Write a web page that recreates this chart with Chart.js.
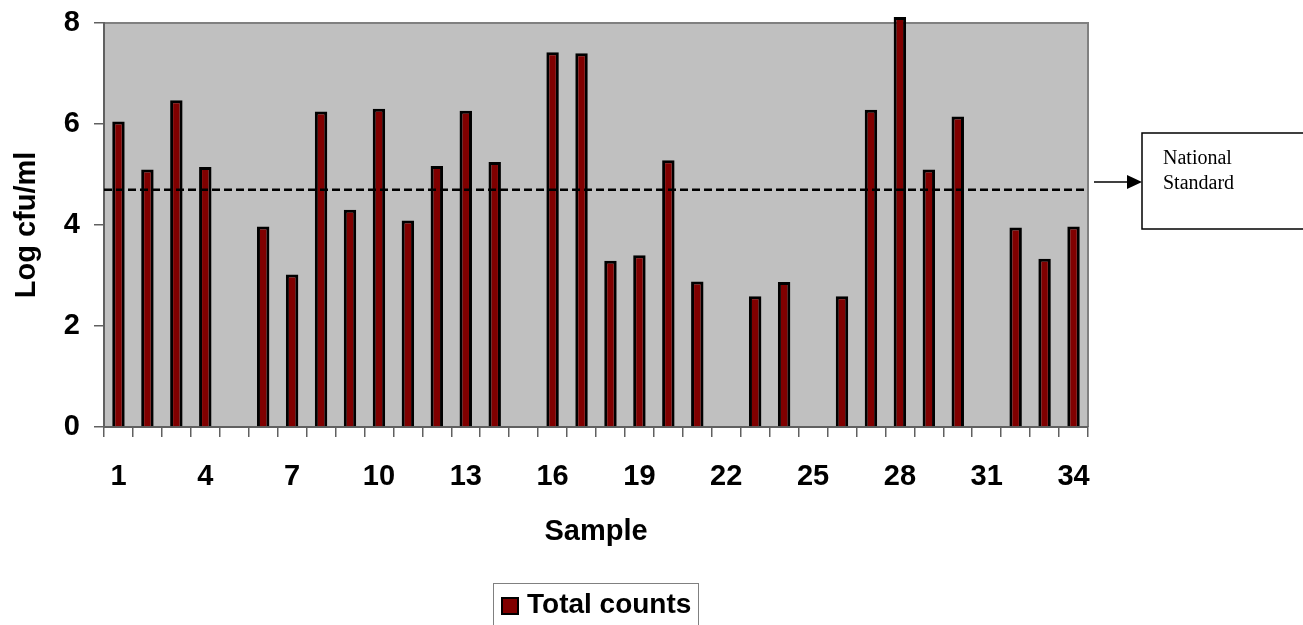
<!DOCTYPE html>
<html>
<head>
<meta charset="utf-8">
<script src="https://cdn.jsdelivr.net/npm/chart.js@4"></script>
<style>
  html, body { margin: 0; padding: 0; background: #fff; }
  #wrap { width: 1303px; height: 625px; position: relative; }
</style>
</head>
<body>
<div id="wrap"><canvas id="chart" width="1303" height="625"></canvas></div>
<script>
// Sample numbers along the x axis
const SAMPLES = ['1', '2', '3', '4', '5', '6', '7', '8', '9', '10', '11', '12',
  '13', '14', '15', '16', '17', '18', '19', '20', '21', '22', '23', '24',
  '25', '26', '27', '28', '29', '30', '31', '32', '33', '34'];

// Total counts, log cfu/ml (null = no bar)
const TOTAL_COUNTS = [6.05, 5.10, 6.47, 5.15, null, 3.97, 3.02, 6.25, 4.30, 6.30,
  4.09, 5.17, 6.26, 5.25, null, 7.42, 7.40, 3.29, 3.40, 5.28, 2.88, null, 2.59,
  2.87, null, 2.59, 6.28, 8.12, 5.10, 6.15, null, 3.95, 3.33, 3.97];

const Y_TICKS = [0, 2, 4, 6, 8];
const NATIONAL_STANDARD = 4.7;
const STANDARD_TEXT = ['National', 'Standard'];

const SANS = "'Liberation Sans', Arial, sans-serif";
const SERIF = "'Liberation Serif', 'Times New Roman', serif";
const AXIS_GREY = '#606060';

// grey plot area with a frame on top and right
const plotBackground = {
  id: 'plotBackground',
  beforeDraw(chart) {
    const { ctx, chartArea: a } = chart;
    ctx.save();
    ctx.fillStyle = '#c0c0c0';
    ctx.fillRect(a.left, a.top, a.right - a.left, a.bottom - a.top);
    ctx.strokeStyle = '#808080';
    ctx.lineWidth = 2;
    ctx.beginPath();
    ctx.moveTo(a.left, a.top);
    ctx.lineTo(a.right, a.top);
    ctx.lineTo(a.right, a.bottom);
    ctx.stroke();
    ctx.restore();
  },
};

// dashed national standard line
const standardLine = {
  id: 'standardLine',
  afterDatasetsDraw(chart) {
    const { ctx, chartArea: a, scales } = chart;
    const y = scales.y.getPixelForValue(NATIONAL_STANDARD);
    ctx.save();
    ctx.strokeStyle = '#000';
    ctx.lineWidth = 2.5;
    ctx.setLineDash([8, 4]);
    ctx.beginPath();
    ctx.moveTo(a.left, y);
    ctx.lineTo(a.right, y);
    ctx.stroke();
    ctx.restore();
  },
};

// arrow + text box on the right
const standardNote = {
  id: 'standardNote',
  afterDraw(chart) {
    const { ctx } = chart;
    const y = 182;
    ctx.save();
    ctx.strokeStyle = '#000';
    ctx.fillStyle = '#000';
    ctx.lineWidth = 1.5;
    ctx.beginPath();
    ctx.moveTo(1094, y);
    ctx.lineTo(1128, y);
    ctx.stroke();
    ctx.beginPath();
    ctx.moveTo(1142, y);
    ctx.lineTo(1127, y - 7);
    ctx.lineTo(1127, y + 7);
    ctx.closePath();
    ctx.fill();

    ctx.fillStyle = '#fff';
    ctx.fillRect(1142, 133, 170, 96);
    ctx.strokeRect(1142, 133, 170, 96);

    ctx.fillStyle = '#000';
    ctx.font = '20px ' + SERIF;
    ctx.textBaseline = 'alphabetic';
    ctx.textAlign = 'left';
    STANDARD_TEXT.forEach((t, i) => ctx.fillText(t, 1163, 164 + i * 25));
    ctx.restore();
  },
};

// framed legend under the x title
const boxLegend = {
  id: 'boxLegend',
  afterDraw(chart) {
    const { ctx, chartArea: a } = chart;
    const ds = chart.data.datasets[0];
    const cx = (a.left + a.right) / 2;
    const left = cx - 103, top = 583;
    ctx.save();
    ctx.strokeStyle = '#808080';
    ctx.lineWidth = 1;
    ctx.strokeRect(left + 0.5, top + 0.5, 205, 60);
    ctx.fillStyle = ds.backgroundColor;
    ctx.fillRect(left + 9, top + 15, 16, 16);
    ctx.strokeStyle = '#000';
    ctx.lineWidth = 2;
    ctx.strokeRect(left + 9, top + 15, 16, 16);
    ctx.fillStyle = '#000';
    ctx.font = 'bold 28px ' + SANS;
    ctx.textBaseline = 'middle';
    ctx.textAlign = 'left';
    ctx.fillText(ds.label, left + 34, top + 22);
    ctx.restore();
  },
};

new Chart(document.getElementById('chart'), {
  type: 'bar',
  data: {
    labels: SAMPLES,
    datasets: [{
      label: 'Total counts',
      data: TOTAL_COUNTS,
      backgroundColor: '#800000',
      borderColor: '#000',
      borderWidth: 3,
      categoryPercentage: 1,
      barPercentage: 0.43,
      clip: false,
    }],
  },
  options: {
    responsive: false,
    devicePixelRatio: 1,
    animation: false,
    layout: { padding: { left: 0, top: 23, right: 215, bottom: 0 } },
    plugins: {
      legend: { display: false },
      tooltip: { enabled: false },
    },
    scales: {
      x: {
        afterFit: s => { s.height = 198; s.paddingLeft = 0; s.paddingRight = 0; },
        grid: { drawOnChartArea: false, drawTicks: true, tickLength: 10, color: AXIS_GREY, lineWidth: 1.5 },
        border: { color: AXIS_GREY, width: 2 },
        ticks: {
          autoSkip: false,
          maxRotation: 0,
          padding: 23,
          color: '#000',
          font: { family: SANS, size: 29, weight: 'bold' },
          callback: (v, i) => (i % 3 === 0 ? SAMPLES[i] : ''),
        },
        title: {
          display: true,
          text: 'Sample',
          color: '#000',
          font: { family: SANS, size: 29, weight: 'bold' },
          padding: { top: 0, bottom: 76 },
        },
      },
      y: {
        min: 0,
        max: 8,
        afterFit: s => { s.width = 104; s.paddingTop = 0; s.paddingBottom = 0; },
        afterBuildTicks: s => { s.ticks = Y_TICKS.map(v => ({ value: v })); },
        grid: { drawOnChartArea: false, drawTicks: true, tickLength: 10, color: AXIS_GREY, lineWidth: 1.5 },
        border: { color: AXIS_GREY, width: 2 },
        ticks: {
          padding: 14,
          color: '#000',
          font: { family: SANS, size: 29, weight: 'bold' },
        },
        title: {
          display: true,
          text: 'Log cfu/ml',
          color: '#000',
          font: { family: SANS, size: 29, weight: 'bold' },
          padding: { top: 10, bottom: 0 },
        },
      },
    },
  },
  plugins: [plotBackground, standardLine, standardNote, boxLegend],
});
</script>
</body>
</html>
